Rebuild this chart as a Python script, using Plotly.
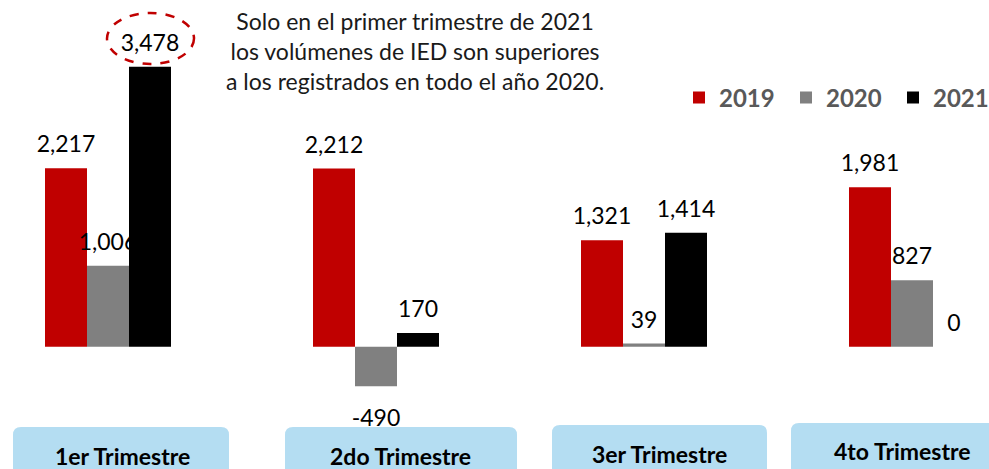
import plotly.graph_objects as go

# ---------------- data ----------------
quarters = ["1er Trimestre", "2do Trimestre", "3er Trimestre", "4to Trimestre"]
years = ["2019", "2020", "2021"]
v2019 = [2217, 2212, 1321, 1981]
v2020 = [1006, -490, 39, 827]
v2021 = [3478, 170, 1414, 0]
note_lines = [
    "Solo en el primer trimestre de 2021",
    "los volúmenes de IED son superiores",
    "a los registrados en todo el año 2020.",
]

# ---------------- style ----------------
W, H = 989, 469
colors = ["#C00000", "#808080", "#000000"]
FONT = "Lato"
bar_w = 42 / 268
x_range = [-108 / 268, -108 / 268 + W / 268]
y_range = [-1519.0, 4306.5]
ppu = H / (y_range[1] - y_range[0])  # pixels per data unit

fig = go.Figure()
idx = list(range(len(quarters)))
series = [v2019, v2020, v2021]
for s, (name, vals, col) in enumerate(zip(years, series, colors)):
    xs = [i + (s - 1) * bar_w for i in idx]
    fig.add_trace(go.Bar(
        x=xs, y=vals, width=bar_w, name=name,
        marker=dict(color=col, line=dict(width=0)),
        hoverinfo="skip",
    ))
    # transparent helper bars carrying the value labels (drawn in series order)
    pads = [(8 if v >= 0 else -14) / ppu for v in vals]
    fig.add_trace(go.Bar(
        x=xs, y=pads, base=vals, width=bar_w,
        marker=dict(color="rgba(0,0,0,0)", line=dict(width=0)),
        text=[f"{v:,}" for v in vals], textposition="outside",
        constraintext="none", cliponaxis=False,
        textfont=dict(family=FONT, size=23, color="black"),
        showlegend=False, hoverinfo="skip",
    ))


def px_x(x):
    return x / W


def px_y(y):
    return 1 - y / H


def rounded_top(x0, y0, x1, y1, r):
    pts = [
        f"M{px_x(x0)},{px_y(y1)}",
        f"L{px_x(x0)},{px_y(y0 + r)}",
        f"Q{px_x(x0)},{px_y(y0)} {px_x(x0 + r)},{px_y(y0)}",
        f"L{px_x(x1 - r)},{px_y(y0)}",
        f"Q{px_x(x1)},{px_y(y0)} {px_x(x1)},{px_y(y0 + r)}",
        f"L{px_x(x1)},{px_y(y1)}",
        "Z",
    ]
    return " ".join(pts)


boxes = [(13, 427, 229), (285, 427, 517), (552, 425, 767), (791, 423, 1010)]
label_pos = [(122, 456), (400, 456), (659, 454), (902, 451)]
shapes = []
for (x0, y0, x1) in boxes:
    shapes.append(dict(type="path", xref="paper", yref="paper",
                       path=rounded_top(x0, y0, x1, 490, 8),
                       fillcolor="#B4DDF2", line=dict(width=0), layer="below"))
# dashed ellipse highlighting the 2021 Q1 value
shapes.append(dict(type="circle", xref="paper", yref="paper",
                   x0=px_x(107), x1=px_x(194), y0=px_y(64), y1=px_y(13),
                   line=dict(color="#C00000", width=2.5, dash="dash")))

annotations = []
for q, (cx, cy) in zip(quarters, label_pos):
    annotations.append(dict(text=q, xref="paper", yref="paper", x=px_x(cx), y=px_y(cy),
                            xanchor="center", yanchor="middle", showarrow=False,
                            font=dict(family=FONT, size=23, color="black", weight="bold")))
annotations.append(dict(text="<br>".join(note_lines), xref="paper", yref="paper",
                        x=px_x(415), y=px_y(51), xanchor="center", yanchor="middle",
                        align="center", showarrow=False,
                        font=dict(family=FONT, size=23, color="#1a1a1a")))

fig.update_layout(
    width=W, height=H,
    margin=dict(l=0, r=0, t=0, b=0, autoexpand=False),
    paper_bgcolor="white", plot_bgcolor="white",
    barmode="overlay",
    xaxis=dict(range=x_range, visible=False, fixedrange=True),
    yaxis=dict(range=y_range, visible=False, fixedrange=True),
    showlegend=True,
    legend=dict(orientation="h", x=px_x(679), xanchor="left", y=px_y(98), yanchor="middle",
                font=dict(family=FONT, size=24, color="#595959", weight="bold"),
                entrywidth=62, bgcolor="rgba(0,0,0,0)"),
    shapes=shapes,
    annotations=annotations,
)

fig.write_html("out.html", config={"displayModeBar": False},
               post_script="document.body.style.margin='0';")
